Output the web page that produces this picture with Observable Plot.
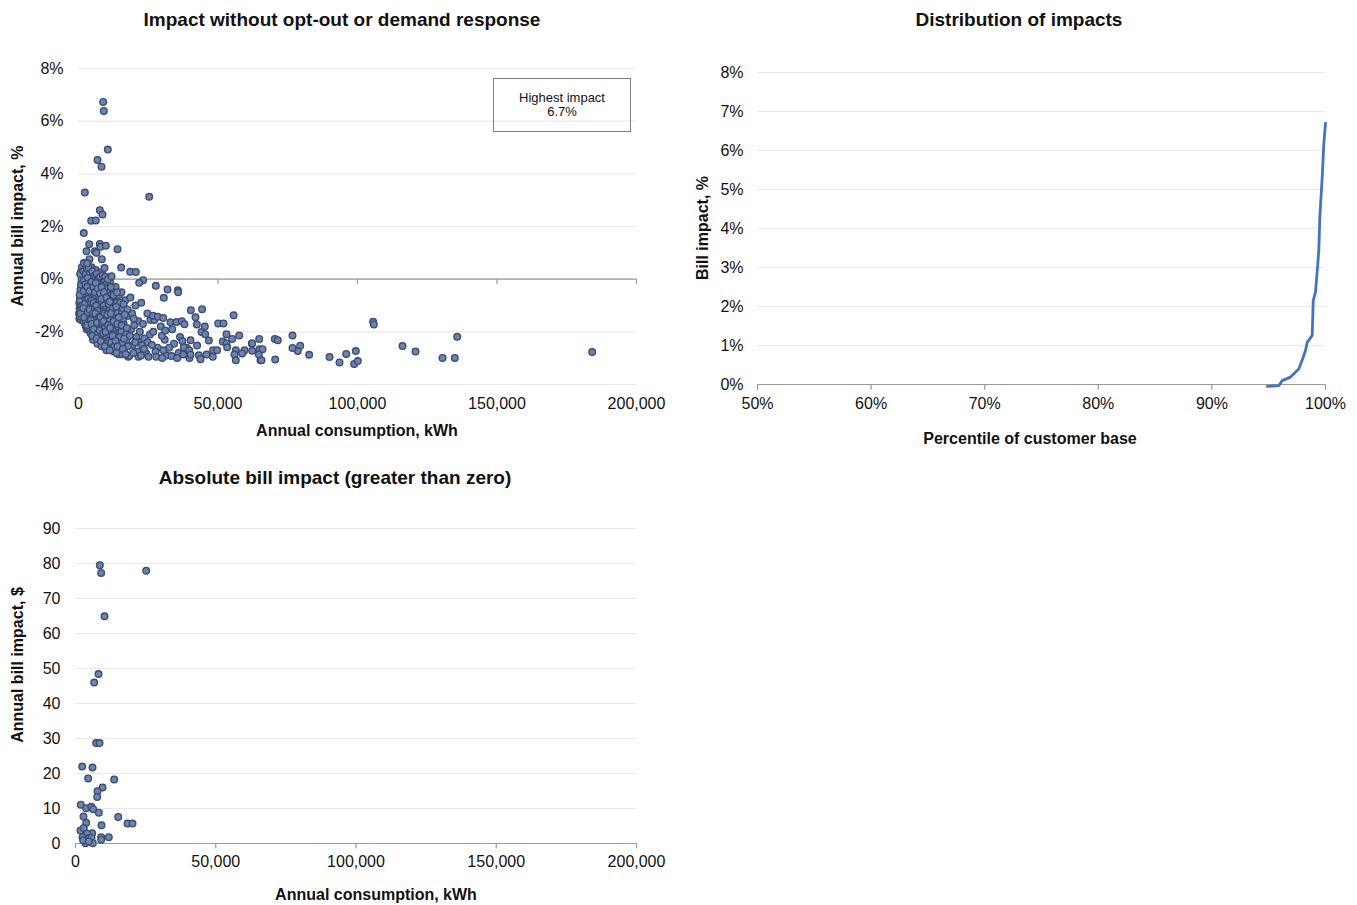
<!DOCTYPE html>
<html>
<head>
<meta charset="utf-8">
<script src="https://cdn.jsdelivr.net/npm/d3@7"></script>
<script src="https://cdn.jsdelivr.net/npm/@observablehq/plot@0.6"></script>
<style>
  html, body { margin: 0; padding: 0; background: #fff; }
  body { width: 1357px; height: 905px; position: relative; overflow: hidden;
         font-family: "Liberation Sans", Arial, sans-serif; color: #111; }
  .abs { position: absolute; white-space: nowrap; transform: translate(-50%, -50%); }
  .title { font-weight: bold; font-size: 19px; }
  .axl { font-weight: bold; font-size: 16px; }
  .rot { transform: translate(-50%, -50%) rotate(-90deg); }
  .chart { position: absolute; }
  .box { position: absolute; left: 493px; top: 78px; width: 138px; height: 54px;
         border: 1px solid #808080; font-size: 13px; text-align: center; line-height: 14px;
         box-sizing: border-box; padding-top: 12px; color: #111; }
</style>
</head>
<body>
<div class="abs title" style="left:342px; top:20px">Impact without opt-out or demand response</div>
<div class="abs title" style="left:1019px; top:20px">Distribution of impacts</div>
<div class="abs title" style="left:335px; top:478px">Absolute bill impact (greater than zero)</div>

<div class="abs axl rot" style="left:18px; top:226px">Annual bill impact, %</div>
<div class="abs axl" style="left:357px; top:431px">Annual consumption, kWh</div>
<div class="abs axl rot" style="left:703px; top:228px">Bill impact, %</div>
<div class="abs axl" style="left:1030px; top:439px">Percentile of customer base</div>
<div class="abs axl rot" style="left:18px; top:665px">Annual bill impact, $</div>
<div class="abs axl" style="left:376px; top:895px">Annual consumption, kWh</div>

<div id="c1" class="chart" style="left:0px; top:40px"></div>
<div id="c2" class="chart" style="left:680px; top:40px"></div>
<div id="c3" class="chart" style="left:0px; top:500px"></div>
<div class="box">Highest impact<br>6.7%</div>

<script>
// ---------- Data ----------
// Chart 1: annual consumption (thousand kWh) and annual bill impact (%)
const impactOutliers = [
  [8.85,6.73],[9.08,6.39],[10.5,4.92],[6.81,4.53],[8.24,4.27],[2.27,3.29],[25.34,3.13],[7.64,2.62],[8.6,2.46],
  [4.55,2.22],[6.2,2.23],[1.9,1.75],[3.83,1.33],[2.87,1.06],[5.85,1.06],[7.64,1.34],[7.89,1.23],[9.79,1.27],
  [6.45,1.0],[13.98,1.14],[8.35,0.76],[3.94,0.76],[1.9,0.61],[3.11,0.6],[15.3,0.44],[9.32,0.42],[18.53,0.28],
  [20.54,0.27],[11.83,0.11],[23.18,-0.04],[21.75,-0.14],[27.71,-0.25],[31.9,-0.39],[35.6,-0.42],[35.73,-0.5],
  [30.57,-0.71],[40.25,-1.18],[44.3,-1.14],[55.6,-1.37],[50.07,-1.68],[51.97,-1.68],[41.94,-1.45],[42.4,-1.72],
  [45.27,-1.8],[44.09,-2.01],[45.4,-2.09],[53.05,-2.09],[57.6,-2.14],[55.09,-2.27],[46.71,-2.33],[51.72,-2.37],
  [53.05,-2.44],[40.14,-2.32],[62.12,-2.44],[42.51,-2.52],[37.74,-2.59],[39.68,-2.7],[48.24,-2.7],[49.68,-2.7],
  [56.38,-2.7],[59.5,-2.7],[53.28,-2.59],[45.88,-2.86],[48.13,-2.95],[55.91,-2.86],[56.38,-3.08],[58.67,-2.82],
  [65.23,-3.08],[30.0,-2.99],[33.33,-2.92],[35.38,-2.99],[37.51,-2.86],[39.78,-2.99],[40.14,-2.86],[43.12,-2.89],
  [43.73,-3.04],[26.76,-1.39],[28.42,-1.43],[30.36,-1.47],[32.97,-1.64],[35.13,-1.63],[37.03,-1.6],[37.99,-1.71]
];
const impactLarge = [
  [105.6,-1.62],[105.85,-1.72],[135.72,-2.19],[116.13,-2.54],[120.79,-2.75],[130.47,-2.99],[134.87,-2.99],
  [184.12,-2.77],[76.7,-2.14],[89.96,-2.96],[93.55,-3.16],[95.95,-2.84],[99.39,-2.73],[98.81,-3.22],[100.11,-3.11],
  [82.68,-2.87],[79.46,-2.53],[78.6,-2.73],[76.7,-2.61],[70.5,-3.05],[70.36,-2.27],[71.43,-2.32],[64.77,-2.27],
  [64.87,-2.66],[65.95,-2.66],[64.63,-2.86],[65.59,-3.08],[62.26,-2.44],[62.26,-2.72]
];
const impactCluster = [
  [0.3,-1.5],[0.2,-1.3],[0.4,-1.1],[0.3,-0.9],[0.6,-0.7],[0.8,-0.5],[1.0,-0.3],[1.2,-0.1],[1.3,0.1],[0.9,-1.55],
  [1.1,-1.2],[1.4,-0.8],[0.7,-1.0],[1.5,-1.4],[1.2,-0.6],[1.0,0.3],
  [1.8,0.5],[2.4,0.35],[2.0,0.15],[2.7,0.0],[1.7,-0.2],[2.3,-0.4],[2.9,-0.6],[1.9,-0.8],[2.5,-1.0],[2.1,-1.2],
  [2.8,-1.4],[1.8,-1.6],[2.4,-1.75],[2.9,-1.9],[2.2,-0.3],[2.6,-1.1],[1.6,-1.35],[2.0,-0.55],
  [3.2,0.55],[3.9,0.3],[4.3,0.1],[3.5,-0.1],[4.1,-0.3],[3.3,-0.5],[4.4,-0.7],[3.7,-0.9],[3.1,-1.1],[4.2,-1.3],
  [3.6,-1.5],[4.0,-1.7],[3.4,-1.9],[4.3,-2.05],[3.8,-0.6],[3.2,-1.4],[4.4,-1.0],[3.6,-0.2],[3.9,-1.85],
  [4.7,0.45],[5.3,0.2],[5.8,0.0],[4.9,-0.2],[5.5,-0.4],[4.6,-0.6],[5.9,-0.8],[5.1,-1.0],[5.6,-1.2],[4.8,-1.4],
  [5.4,-1.6],[5.9,-1.8],[5.0,-2.0],[5.7,-2.2],[5.2,-2.3],[4.6,-1.1],[5.8,-1.45],[5.1,-0.7],
  [6.2,0.35],[6.9,0.1],[7.4,-0.1],[6.4,-0.3],[7.1,-0.5],[6.1,-0.7],[7.3,-0.9],[6.6,-1.1],[7.0,-1.3],[6.3,-1.5],
  [7.2,-1.7],[6.7,-1.9],[6.1,-2.1],[7.4,-2.3],[6.8,-2.45],[6.5,-0.85],[7.2,-1.15],[6.3,-1.95],
  [7.7,0.25],[8.4,0.05],[8.9,-0.2],[7.9,-0.4],[8.6,-0.6],[7.6,-0.8],[8.8,-1.0],[8.1,-1.2],[8.5,-1.4],[7.8,-1.6],
  [8.7,-1.8],[8.2,-2.0],[7.6,-2.2],[8.9,-2.4],[8.3,-2.55],[8.0,-0.95],[8.6,-2.15],[7.7,-1.35],
  [9.2,0.0],[10.1,-0.2],[10.8,-0.4],[9.5,-0.6],[10.4,-0.8],[9.1,-1.0],[10.7,-1.2],[9.8,-1.4],[10.3,-1.6],[9.4,-1.8],
  [10.9,-2.0],[9.9,-2.2],[9.2,-2.4],[10.6,-2.6],[10.0,-2.7],[9.6,-1.15],[10.5,-2.35],[9.3,-0.35],
  [11.3,-0.1],[12.4,-0.35],[11.7,-0.6],[12.8,-0.85],[11.2,-1.1],[12.2,-1.35],[11.8,-1.6],[12.9,-1.85],[11.4,-2.1],
  [12.5,-2.35],[11.9,-2.6],[12.7,-2.75],[11.1,-1.5],[12.0,-2.45],[11.5,-0.8],
  [13.3,-0.3],[14.5,-0.6],[13.7,-0.9],[14.8,-1.2],[13.2,-1.5],[14.1,-1.8],[13.6,-2.1],[14.7,-2.4],[13.9,-2.65],
  [14.3,-2.85],[13.4,-1.25],[14.9,-2.05],
  [15.4,-0.5],[16.8,-0.8],[15.9,-1.1],[17.5,-1.4],[16.2,-1.7],[15.3,-2.0],[17.2,-2.3],[16.5,-2.6],[15.7,-2.85],
  [17.8,-2.95],[16.0,-1.5],[17.0,-2.1],[15.6,-2.4],
  [18.6,-0.7],[20.4,-1.0],[19.2,-1.3],[21.5,-1.6],[18.9,-1.9],[20.8,-2.2],[19.5,-2.5],[21.2,-2.75],[18.3,-2.9],
  [20.0,-1.75],[21.8,-2.4],
  [22.5,-0.9],[24.7,-1.3],[23.1,-1.7],[25.6,-2.1],[22.8,-2.5],[24.2,-2.8],[25.1,-2.95],[23.6,-2.25],[25.8,-1.55],
  [27.2,-1.55],[29.5,-1.8],[26.8,-2.0],[30.9,-2.3],[28.3,-2.6],[31.5,-2.9],[27.6,-2.75],[29.9,-2.15],[31.1,-1.95],
  [33.6,-1.9],[36.4,-2.2],[34.2,-2.45],[38.7,-2.6],[35.9,-2.8],[32.5,-2.6],[37.2,-2.35]
];
const impactClusterFill = [
  [0.5,-1.4],[0.6,-1.2],[0.5,-0.8],[0.7,-0.4],[0.9,-0.2],[0.4,-0.6],[1.1,0.0],[1.3,-1.0],[0.8,-1.3],[1.2,0.45],[0.6,0.2],
  [1.7,0.3],[2.2,0.6],[2.6,0.2],[1.9,-0.05],[2.5,-0.2],[1.8,-0.45],[2.7,-0.8],[2.2,-0.95],[1.7,-1.1],[2.3,-1.5],[2.7,-1.65],[2.0,-1.45],
  [3.0,0.4],[3.6,0.45],[4.0,0.2],[3.3,0.05],[4.4,-0.15],[3.1,-0.3],[3.9,-0.45],[3.5,-0.75],[4.2,-0.85],[3.3,-1.25],[4.0,-1.15],[3.8,-1.6],[3.1,-1.75],[4.4,-1.55],
  [5.0,0.3],[5.6,0.1],[4.7,-0.1],[5.3,-0.3],[5.9,-0.5],[4.8,-0.8],[5.4,-0.9],[5.9,-1.1],[5.2,-1.3],[4.7,-1.7],[5.5,-1.9],[4.9,-2.15],
  [6.0,0.15],[6.6,0.2],[7.3,0.05],[6.2,-0.15],[6.9,-0.35],[7.4,-0.65],[6.3,-1.0],[6.9,-1.2],[6.0,-1.3],[7.4,-1.45],[6.6,-1.65],[7.0,-2.05],[6.5,-2.25],
  [7.8,0.1],[8.7,0.15],[8.3,-0.3],[7.7,-0.55],[8.2,-0.75],[8.9,-1.25],[7.9,-1.45],[8.5,-1.65],[7.6,-1.95],[8.8,-2.05],[8.0,-2.35],
  [9.6,0.1],[10.5,0.0],[9.1,-0.5],[10.0,-0.7],[10.8,-0.95],[9.4,-1.3],[10.3,-1.35],[9.0,-1.6],[10.6,-1.75],[9.7,-2.0],[10.2,-2.45],[9.4,-2.55],
  [11.6,-0.3],[12.6,-0.6],[11.2,-0.85],[12.3,-1.1],[11.6,-1.3],[12.6,-1.6],[11.3,-1.85],[12.2,-2.15],[11.7,-2.4],[12.9,-2.55],[11.2,-2.7],
  [13.8,-0.5],[14.9,-0.9],[13.5,-1.05],[14.4,-1.45],[13.9,-1.7],[14.8,-2.2],[13.3,-2.35],[14.0,-2.55],[13.6,-2.8],
  [16.2,-0.95],[17.6,-1.15],[16.6,-1.35],[15.5,-1.75],[17.3,-1.85],[16.3,-2.25],[17.7,-2.55],[15.9,-2.65],[16.9,-2.85],
  [19.8,-1.5],[18.4,-2.15],[20.3,-2.4],[21.5,-2.95],[19.7,-2.8],[22.0,-2.0],
  [23.5,-2.65],[24.8,-2.4],[22.4,-2.9],[26.3,-2.5],[27.9,-2.95],[30.4,-2.7]
];
const consumptionTicks = [0, 50000, 100000, 150000, 200000];
const impactPctTicks = [-4, -2, 0, 2, 4, 6, 8];

// Chart 2: distribution of impacts (percentile of customer base, bill impact %)
const distPercentile = [94.87, 95.89, 96.19, 96.92, 97.65, 98.04, 98.24, 98.39, 98.83, 98.92, 99.12, 99.32, 99.41, 99.5, 99.71, 99.85, 100];
const distImpact     = [-0.05, -0.03, 0.1, 0.19, 0.4, 0.7, 0.87, 1.08, 1.26, 2.15, 2.37, 3.09, 3.44, 4.29, 5.31, 6.17, 6.7];
const percentileTicks = [50, 60, 70, 80, 90, 100];
const billImpactTicks = [0, 1, 2, 3, 4, 5, 6, 7, 8];

// Chart 3: absolute bill impact > 0 (consumption thousand kWh, $)
const absPoints = [
  [8.67,79.5],[9.15,77.3],[25.2,77.9],[10.34,64.9],[8.2,48.4],[6.66,46],[7.37,28.7],[8.56,28.7],[2.38,22],[6.06,21.7],
  [4.52,18.6],[13.79,18.3],[9.63,16],[7.84,14.9],[7.73,13.3],[1.89,11.1],[3.81,10.1],[5.6,10.5],[6.31,9.8],[8.31,8.8],
  [2.85,7.7],[15.22,7.6],[18.54,5.7],[20.32,5.7],[9.27,5.2],[3.81,5.9],[1.78,3.7],[2.96,4.4],[5.95,2.9],[4.17,2.8],
  [2.5,1.8],[4.88,1.6],[5.7,1.6],[9.15,1.8],[11.87,1.8],[9.15,1.1],[3.57,0.1],[6.17,0.1],[2.74,0.9],[4.74,0.6]
];
const dollarTicks = [0, 10, 20, 30, 40, 50, 60, 70, 80, 90];

// ---------- Build tables ----------
const impactData = [...impactCluster, ...impactClusterFill, ...impactOutliers, ...impactLarge].map(([k, v]) => ({kwh: k * 1000, pct: v}));
const distData = distPercentile.map((p, i) => ({p, v: distImpact[i]}));
const absData = absPoints.map(([k, v]) => ({kwh: k * 1000, usd: v}));

const font = "'Liberation Sans', Arial, sans-serif";
const baseStyle = {fontFamily: font, fontSize: "16px", color: "#111", background: "transparent", overflow: "visible"};
const gridColor = "#e9e9e9";
const axisColor = "#9a9a9a";
const dotFill = "#6c84b0", dotStroke = "#3b4d70";
const fmtComma = d3.format(",");

const c1 = Plot.plot({
  width: 680, height: 420,
  marginLeft: 78, marginRight: 44, marginTop: 28, marginBottom: 76,
  style: baseStyle,
  x: {domain: [0, 200000], ticks: consumptionTicks, tickFormat: fmtComma, tickSize: 0, tickPadding: 13, label: null},
  y: {domain: [-4, 8], ticks: impactPctTicks, tickFormat: d => d + "%", tickSize: 0, tickPadding: 15, label: null},
  marks: [
    Plot.ruleY(impactPctTicks, {stroke: gridColor, strokeWidth: 1.2}),
    Plot.ruleY([0], {stroke: axisColor, strokeWidth: 1.2}),
    Plot.ruleX(consumptionTicks, {y1: 0, y2: -0.2, stroke: axisColor, strokeWidth: 1.2}),
    Plot.dot(impactData, {x: "kwh", y: "pct", r: 3.3, fill: dotFill, stroke: dotStroke, strokeWidth: 1.4})
  ]
});
document.getElementById("c1").appendChild(c1);

const c2 = Plot.plot({
  width: 677, height: 420,
  marginLeft: 77, marginRight: 32, marginTop: 32, marginBottom: 76,
  style: baseStyle,
  x: {domain: [50, 100], ticks: percentileTicks, tickFormat: d => d + "%", tickSize: 0, tickPadding: 13, label: null},
  y: {domain: [0, 8], ticks: billImpactTicks, tickFormat: d => d + "%", tickSize: 0, tickPadding: 14, label: null},
  marks: [
    Plot.ruleY(billImpactTicks.filter(d => d > 0), {stroke: gridColor, strokeWidth: 1.2}),
    Plot.ruleY([0], {stroke: axisColor, strokeWidth: 1.2}),
    Plot.ruleX(percentileTicks, {y1: 0, y2: -0.15, stroke: axisColor, strokeWidth: 1.2}),
    Plot.line(distData, {x: "p", y: "v", stroke: "#4472c4", strokeWidth: 2.8})
  ]
});
document.getElementById("c2").appendChild(c2);

const c3 = Plot.plot({
  width: 680, height: 400,
  marginLeft: 75, marginRight: 44, marginTop: 28, marginBottom: 57,
  style: baseStyle,
  x: {domain: [0, 200000], ticks: consumptionTicks, tickFormat: fmtComma, tickSize: 0, tickPadding: 12, label: null},
  y: {domain: [0, 90], ticks: dollarTicks, tickSize: 0, tickPadding: 15, label: null},
  marks: [
    Plot.ruleY(dollarTicks.filter(d => d > 0), {stroke: gridColor, strokeWidth: 1.2}),
    Plot.ruleY([0], {stroke: axisColor, strokeWidth: 1.2}),
    Plot.ruleX(consumptionTicks, {y1: 0, y2: -1.5, stroke: axisColor, strokeWidth: 1.2}),
    Plot.dot(absData, {x: "kwh", y: "usd", r: 3.3, fill: dotFill, stroke: dotStroke, strokeWidth: 1.4})
  ]
});
document.getElementById("c3").appendChild(c3);
</script>
</body>
</html>
